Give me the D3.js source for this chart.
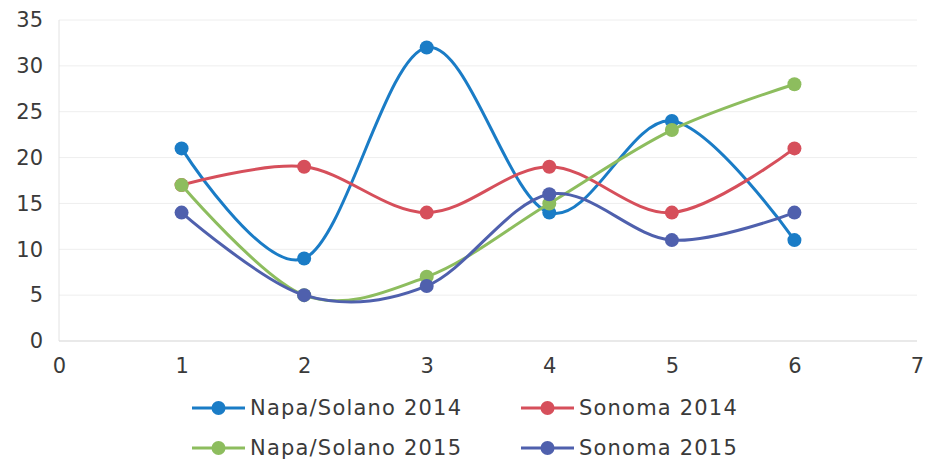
<!DOCTYPE html>
<html><head><meta charset="utf-8">
<script src="https://cdn.jsdelivr.net/npm/d3@7"></script>
<style>body{margin:0;background:#fff}svg{display:block}</style>
</head><body>
<svg id="c" width="925" height="467"></svg>
<script>
const xValues = [1, 2, 3, 4, 5, 6];
const seriesNames = ["Napa/Solano 2014", "Sonoma 2014", "Napa/Solano 2015", "Sonoma 2015"];
const napaSolano2014 = [21, 9, 32, 14, 24, 11];
const sonoma2014 = [17, 19, 14, 19, 14, 21];
const napaSolano2015 = [17, 5, 7, 15, 23, 28];
const sonoma2015 = [14, 5, 6, 16, 11, 14];
const xTicks = [0, 1, 2, 3, 4, 5, 6, 7];
const yTicks = [0, 5, 10, 15, 20, 25, 30, 35];

const colors = ["#1a7cc6", "#d64f5b", "#8dbd5e", "#4f60ad"];
const seriesData = [napaSolano2014, sonoma2014, napaSolano2015, sonoma2015];

const svg = d3.select("#c");
const x = d3.scaleLinear().domain([0, 7]).range([59, 917]);
const y = d3.scaleLinear().domain([0, 35]).range([341, 20]);
const font = "'DejaVu Sans', sans-serif";
const textColor = "#3a3a3a";

// gridlines
svg.append("g").selectAll("line").data(yTicks.filter(d => d > 0)).join("line")
  .attr("x1", x(0)).attr("x2", x(7)).attr("y1", d => y(d)).attr("y2", d => y(d))
  .attr("stroke", "#eeeeee").attr("stroke-width", 1);
// axes lines
svg.append("line").attr("x1", x(0)).attr("x2", x(7)).attr("y1", y(0)).attr("y2", y(0))
  .attr("stroke", "#d4d4d4").attr("stroke-width", 1.2);
svg.append("line").attr("x1", x(0)).attr("x2", x(0)).attr("y1", y(0)).attr("y2", y(35))
  .attr("stroke", "#e2e2e2").attr("stroke-width", 1);

const yAxis = d3.axisLeft(y).tickValues(yTicks).tickFormat(d3.format("d")).tickSize(0).tickPadding(16);
const gy = svg.append("g").attr("transform", `translate(${x(0)},0)`).call(yAxis);
gy.select(".domain").remove();
gy.selectAll("text").attr("font-family", font).attr("font-size", 21).attr("fill", textColor);

const xAxis = d3.axisBottom(x).tickValues(xTicks).tickFormat(d3.format("d")).tickSize(0).tickPadding(17);
const gx = svg.append("g").attr("transform", `translate(0,${y(0)})`).call(xAxis);
gx.select(".domain").remove();
gx.selectAll("text").attr("font-family", font).attr("font-size", 21).attr("fill", textColor);

const line = d3.line().x((d, i) => x(xValues[i])).y(d => y(d)).curve(d3.curveCardinal.tension(0));

seriesData.forEach((s, k) => {
  const g = svg.append("g");
  g.append("path").attr("d", line(s)).attr("fill", "none")
    .attr("stroke", colors[k]).attr("stroke-width", 3);
  g.selectAll("circle").data(s).join("circle")
    .attr("cx", (d, i) => x(xValues[i])).attr("cy", d => y(d)).attr("r", 7)
    .attr("fill", colors[k]);
});

// legend
const legendPos = [[192, 408], [521, 408], [192, 448], [521, 448]];
seriesNames.forEach((n, k) => {
  const [lx, ly] = legendPos[k];
  const g = svg.append("g");
  g.append("line").attr("x1", lx).attr("x2", lx + 53).attr("y1", ly).attr("y2", ly)
    .attr("stroke", colors[k]).attr("stroke-width", 3);
  g.append("circle").attr("cx", lx + 26.5).attr("cy", ly).attr("r", 7).attr("fill", colors[k]);
  g.append("text").attr("x", lx + 58).attr("y", ly).attr("dy", "0.35em")
    .attr("font-family", font).attr("font-size", 21).attr("letter-spacing", 1.2)
    .attr("fill", textColor).text(n);
});
</script>
</body></html>
